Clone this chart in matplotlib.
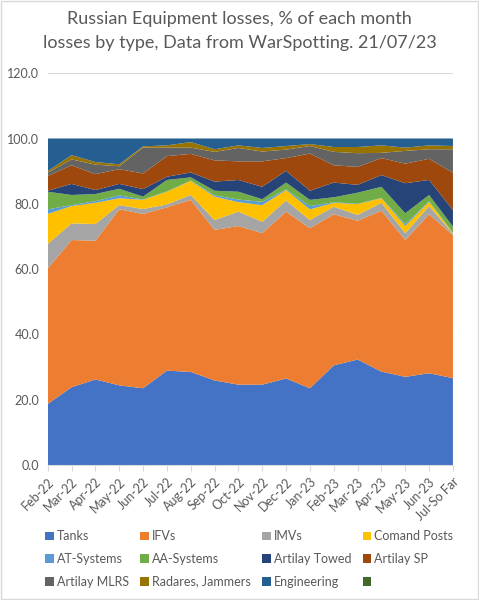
import matplotlib
matplotlib.use("Agg")
import matplotlib.pyplot as plt
from matplotlib.patches import Rectangle, Patch

plt.rcParams['font.family'] = ['Lato', 'DejaVu Sans']

months = ["Feb-22", "Mar-22", "Apr-22", "May-22", "Jun-22", "Jul-22", "Aug-22",
          "Sep-22", "Oct-22", "Nov-22", "Dec-22", "Jan-23", "Feb-23", "Mar-23",
          "Apr-23", "May-23", "Jun-23", "Jul-So Far"]

# % of each month's losses, by type
tanks = [18.7, 23.8, 26.2, 24.4, 23.5, 28.9, 28.5, 25.9, 24.6, 24.6, 26.5, 23.5, 30.5, 32.3, 28.6, 27.0, 28.1, 26.6]
ifvs = [41.5, 45.1, 42.5, 53.9, 53.4, 50.0, 52.7, 46.1, 48.6, 46.4, 51.1, 49.0, 46.3, 42.5, 49.3, 41.9, 48.7, 43.8]
imvs = [7.5, 5.1, 5.1, 1.3, 1.5, 0.9, 1.5, 3.0, 4.4, 3.5, 3.4, 2.5, 2.3, 1.8, 2.4, 2.1, 2.5, 0.4]
comand_posts = [9.2, 5.3, 6.5, 2.1, 2.8, 3.9, 4.3, 7.2, 2.9, 5.1, 3.2, 3.3, 1.2, 3.3, 1.4, 2.2, 1.3, 0.2]
at_systems = [1.4, 0.3, 0.5, 0.9, 0.1, 0.1, 0.1, 0.4, 0.8, 1.0, 0.2, 1.0, 0.2, 0.1, 0.1, 0.6, 0.2, 0.1]
aa_systems = [5.4, 3.1, 2.2, 2.0, 0.9, 3.5, 1.0, 1.4, 2.4, 0.8, 2.1, 1.9, 1.5, 3.4, 3.4, 3.3, 1.9, 1.9]
art_towed = [0.3, 3.4, 1.2, 1.5, 2.3, 1.0, 1.5, 2.8, 3.6, 3.8, 3.6, 2.8, 4.5, 2.4, 3.6, 9.2, 4.6, 5.1]
art_sp = [4.5, 5.7, 4.9, 4.5, 4.8, 6.3, 5.7, 6.5, 5.7, 7.8, 3.9, 11.4, 5.3, 5.5, 5.2, 6.0, 6.5, 11.4]
art_mlrs = [1.0, 1.8, 2.9, 0.9, 7.9, 2.6, 1.9, 2.6, 4.1, 3.0, 2.6, 2.3, 4.1, 4.2, 1.6, 3.9, 2.9, 7.2]
radares = [0.5, 1.3, 0.8, 0.6, 0.4, 0.7, 1.7, 0.8, 0.8, 1.1, 1.1, 0.6, 1.5, 1.9, 2.3, 1.0, 1.2, 1.0]
engineering = [10.0, 5.1, 7.2, 7.9, 2.4, 2.1, 1.1, 3.3, 2.1, 2.9, 2.3, 1.7, 2.6, 2.6, 2.1, 2.8, 2.1, 2.3]
other = [0.0] * 18

labels = ["Tanks", "IFVs", "IMVs", "Comand Posts", "AT-Systems", "AA-Systems",
          "Artilay Towed", "Artilay SP", "Artilay MLRS", "Radares, Jammers",
          "Engineering", ""]
colors = ["#4472C4", "#ED7D31", "#A5A5A5", "#FFC000", "#5B9BD5", "#70AD47",
          "#264478", "#9E480E", "#636363", "#997300", "#255E91", "#43682B"]
series = [tanks, ifvs, imvs, comand_posts, at_systems, aa_systems, art_towed,
          art_sp, art_mlrs, radares, engineering, other]

fig = plt.figure(figsize=(4.79, 6.0), dpi=100)
ax = fig.add_axes([0.0996, 0.225, 0.846, 0.653])

x = list(range(len(months)))
ax.stackplot(x, *series, colors=colors, linewidth=0)

ax.set_xlim(0, len(months) - 1)
ax.set_ylim(0, 120)
ax.set_yticks(range(0, 121, 20))
ax.set_yticklabels([f"{v:.1f}" for v in range(0, 121, 20)])
ax.yaxis.grid(True, color="#D9D9D9", linewidth=0.8)
ax.set_axisbelow(True)
ax.set_xticks(x)
ax.set_xticklabels(months, rotation=45, ha="right", rotation_mode="anchor")
ax.tick_params(axis="x", colors="#595959", labelsize=9, length=4, color="#D9D9D9")
ax.tick_params(axis="y", colors="#595959", labelsize=9, length=0, pad=6)
for s in ["top", "right", "left"]:
    ax.spines[s].set_visible(False)
ax.spines["bottom"].set_color("#D9D9D9")

fig.text(0.5, 0.968, "Russian Equipment losses, % of each month", ha="center",
         va="center", fontsize=13, color="#595959")
fig.text(0.5, 0.928, "losses by type, Data from WarSpotting. 21/07/23", ha="center",
         va="center", fontsize=13, color="#595959")

handles = [Patch(facecolor=c, label=l) for c, l in zip(colors, labels)]
order = [0, 4, 8, 1, 5, 9, 2, 6, 10, 3, 7, 11]
fig.legend([handles[i] for i in order], [labels[i] for i in order], ncol=4,
           loc="lower left", bbox_to_anchor=(0.07, 0.002, 0.9, 0.13), mode="expand",
           frameon=False, fontsize=9, handlelength=0.7, handleheight=0.7,
           handletextpad=0.25, labelcolor="#595959", labelspacing=0.85)

fig.patches.append(Rectangle((0.002, 0.002), 0.996, 0.996, transform=fig.transFigure,
                             fill=False, edgecolor="#D9D9D9", linewidth=1))

fig.savefig("out.png", dpi=100)
